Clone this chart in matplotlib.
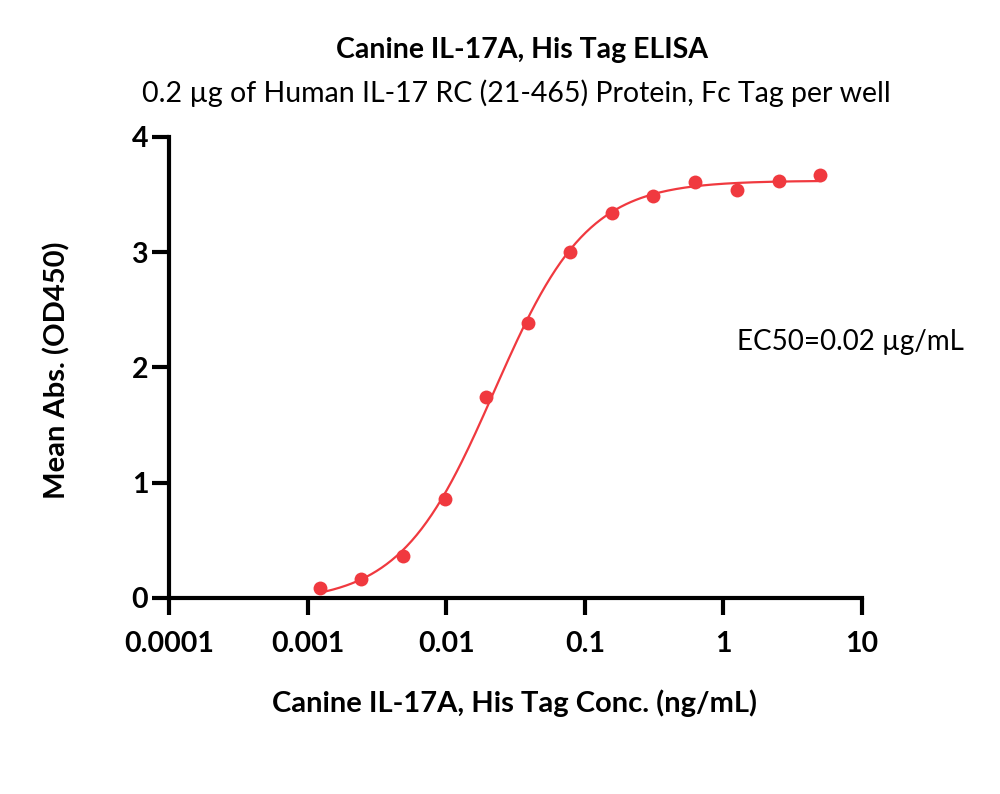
import numpy as np
import matplotlib
matplotlib.use("Agg")
import matplotlib.pyplot as plt
from matplotlib.ticker import FixedLocator, NullLocator

plt.rcParams['font.family'] = ['Lato', 'DejaVu Sans']

# data
conc = [0.00122, 0.00244, 0.00488, 0.00977, 0.0195, 0.039, 0.078,
        0.156, 0.3125, 0.625, 1.25, 2.5, 5.0]
od450 = [0.087, 0.165, 0.364, 0.86, 1.74, 2.39, 3.0,
         3.34, 3.49, 3.61, 3.54, 3.62, 3.67]
x_ticks = [0.0001, 0.001, 0.01, 0.1, 1, 10]
x_tick_labels = ['0.0001', '0.001', '0.01', '0.1', '1', '10']
y_ticks = [0, 1, 2, 3, 4]

red = '#F0393F'

# 4PL fit of the points (grid search on ec50/hill, linear solve for bottom/top)
xd = np.array(conc)
yd = np.array(od450)
best = None
for lec in np.linspace(-2.2, -1.3, 181):
    for h in np.linspace(0.8, 2.2, 141):
        s = 1.0 / (1.0 + (10**lec / xd) ** h)
        A = np.column_stack([1 - s, s])
        coef, *_ = np.linalg.lstsq(A, yd, rcond=None)
        err = np.sum((A @ coef - yd) ** 2)
        if best is None or err < best[0]:
            best = (err, lec, h, coef)
_, lec, hill, (bottom, top) = best
xf = np.logspace(np.log10(conc[0]), np.log10(conc[-1]), 300)
yf = bottom + (top - bottom) / (1.0 + (10**lec / xf) ** hill)

fig = plt.figure(figsize=(10, 7.94), dpi=100)
ax = fig.add_axes([0.169, 0.2469, 0.693, 0.5806])

ax.plot(xf, yf, color=red, lw=1.6, zorder=2)
ax.plot(conc, od450, 'o', color=red, ms=10, mec='none', zorder=3, clip_on=False)

ax.set_xscale('log')
ax.set_xlim(0.0001, 10)
ax.set_ylim(0, 4)
ax.xaxis.set_major_locator(FixedLocator(x_ticks))
ax.xaxis.set_minor_locator(NullLocator())
ax.set_xticklabels(x_tick_labels)
ax.set_yticks(y_ticks)

for side in ['top', 'right']:
    ax.spines[side].set_visible(False)
for side in ['left', 'bottom']:
    ax.spines[side].set_linewidth(3)

ax.tick_params(axis='both', direction='out', length=12, width=3,
               labelsize=20.5, pad=3)
for lab in ax.get_xticklabels() + ax.get_yticklabels():
    lab.set_fontweight('bold')
ax.tick_params(axis='x', pad=12)

fig.text(0.5215, 1 - 50 / 794, 'Canine IL-17A, His Tag ELISA', ha='center',
         va='center', fontsize=20.5, fontweight='bold')
fig.text(0.516, 1 - 93 / 794, '0.2 µg of Human IL-17 RC (21-465) Protein, Fc Tag per well',
         ha='center', va='center', fontsize=20.5)
fig.text(0.5145, 1 - 703 / 794, 'Canine IL-17A, His Tag Conc. (ng/mL)', ha='center',
         va='center', fontsize=21, fontweight='bold')
fig.text(0.057, 1 - 370 / 794, 'Mean Abs. (OD450)', ha='center', va='center',
         rotation=90, fontsize=21, fontweight='bold')
fig.text(0.85, 1 - 342 / 794, 'EC50=0.02 µg/mL', ha='center', va='center',
         fontsize=20)

fig.savefig('out.png', dpi=100, facecolor='white')
